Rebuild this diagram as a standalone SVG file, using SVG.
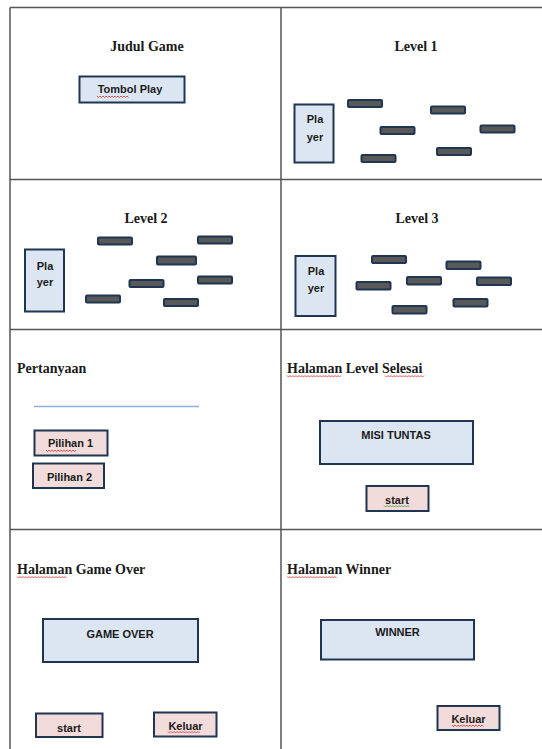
<svg xmlns="http://www.w3.org/2000/svg" width="542" height="749" viewBox="0 0 542 749">
<style>
.grid{stroke:#555;stroke-width:1.5;fill:none}
.h{font-family:"Liberation Serif","Times New Roman",serif;font-weight:bold;font-size:14px;fill:#1a1a1a}
.t{font-family:"Liberation Sans",Arial,sans-serif;font-weight:bold;font-size:11px;fill:#1a1a1a;text-anchor:middle;dominant-baseline:central}
.blue{fill:#dce6f2;stroke:#1f3552;stroke-width:2}
.pink{fill:#f2dcdb;stroke:#1f3552;stroke-width:2}
.bar{fill:#595959;stroke:#1f3552;stroke-width:2}
.sq{fill:none;stroke:#e03030;stroke-width:0.8}
.sqg{fill:none;stroke:#3a9a3a;stroke-width:0.8}
</style>
<rect width="542" height="749" fill="#fff"/>
<g id="grid">
<path class="grid" d="M10,7.5H542M10,7.5V749M281,7.5V749M10,179.5H542M10,329.5H542M10,529.5H542"/>
</g>

<g id="panel-title">
<text class="h" x="147" y="51" text-anchor="middle">Judul Game</text>
<g id="btn-play"><rect class="blue" x="79.5" y="76.5" width="105" height="26"/>
<text class="t" x="130" y="89">Tombol Play</text>
<path class="sq" d="M97,96l1.5,1.5l1.5,-1.5l1.5,1.5l1.5,-1.5l1.5,1.5l1.5,-1.5l1.5,1.5l1.5,-1.5l1.5,1.5l1.5,-1.5l1.5,1.5l1.5,-1.5l1.5,1.5l1.5,-1.5l1.5,1.5l1.5,-1.5l1.5,1.5l1.5,-1.5l1.5,1.5l1.5,-1.5l1.5,1.5"/></g>
</g>

<g id="panel-level1">
<text class="h" x="416" y="51" text-anchor="middle">Level 1</text>
<g id="player1"><rect class="blue" x="294.5" y="104.5" width="39" height="58"/>
<text class="t" x="315" y="119">Pla</text><text class="t" x="315" y="137">yer</text></g>
<rect class="bar" x="348" y="100" width="34" height="7" rx="1"/>
<rect class="bar" x="431" y="106.5" width="34" height="7" rx="1"/>
<rect class="bar" x="380.5" y="127" width="34" height="7" rx="1"/>
<rect class="bar" x="480.5" y="125.5" width="34" height="7" rx="1"/>
<rect class="bar" x="437" y="148" width="34" height="7" rx="1"/>
<rect class="bar" x="361.5" y="155" width="34" height="7" rx="1"/>
</g>

<g id="panel-level2">
<text class="h" x="146" y="223" text-anchor="middle">Level 2</text>
<g id="player2"><rect class="blue" x="25" y="249.5" width="39" height="62"/>
<text class="t" x="45" y="266">Pla</text><text class="t" x="45" y="282">yer</text></g>
<rect class="bar" x="98" y="237.5" width="34" height="7" rx="1"/>
<rect class="bar" x="198" y="236.5" width="34" height="7" rx="1"/>
<rect class="bar" x="157" y="256.5" width="39" height="8" rx="1"/>
<rect class="bar" x="129.5" y="280" width="34" height="7" rx="1"/>
<rect class="bar" x="198" y="276.5" width="34" height="7" rx="1"/>
<rect class="bar" x="86" y="295.5" width="34" height="7" rx="1"/>
<rect class="bar" x="164" y="299" width="34" height="7" rx="1"/>
</g>

<g id="panel-level3">
<text class="h" x="417" y="223" text-anchor="middle">Level 3</text>
<g id="player3"><rect class="blue" x="295.5" y="256" width="40" height="60"/>
<text class="t" x="316" y="271">Pla</text><text class="t" x="316" y="288">yer</text></g>
<rect class="bar" x="372" y="256" width="34" height="7" rx="1"/>
<rect class="bar" x="446.5" y="261.5" width="34" height="7.5" rx="1"/>
<rect class="bar" x="356.5" y="282" width="34" height="7.5" rx="1"/>
<rect class="bar" x="407" y="277" width="34" height="7.5" rx="1"/>
<rect class="bar" x="477" y="277.5" width="34" height="7.5" rx="1"/>
<rect class="bar" x="453.5" y="299" width="34" height="7.5" rx="1"/>
<rect class="bar" x="392.5" y="306" width="34" height="7.5" rx="1"/>
</g>

<g id="panel-pertanyaan">
<text class="h" x="17" y="373">Pertanyaan</text>
<line x1="34" y1="406.5" x2="199" y2="406.5" stroke="#8eb0dc" stroke-width="1.5"/>
<g id="btn-pilihan1"><rect class="pink" x="34.5" y="430.5" width="73" height="25"/>
<text class="t" x="70.5" y="443">Pilihan 1</text>
<path class="sq" d="M46,450l1.5,1.5l1.5,-1.5l1.5,1.5l1.5,-1.5l1.5,1.5l1.5,-1.5l1.5,1.5l1.5,-1.5l1.5,1.5l1.5,-1.5l1.5,1.5l1.5,-1.5l1.5,1.5l1.5,-1.5l1.5,1.5l1.5,-1.5l1.5,1.5l1.5,-1.5l1.5,1.5l1.5,-1.5"/></g>
<g id="btn-pilihan2"><rect class="pink" x="33" y="463.5" width="71" height="24.5"/>
<text class="t" x="69.5" y="476.5">Pilihan 2</text></g>
</g>

<g id="panel-level-selesai">
<text class="h" x="287" y="373">Halaman Level Selesai</text>
<path class="sq" d="M287,375.5l1.5,1.5l1.5,-1.5l1.5,1.5l1.5,-1.5l1.5,1.5l1.5,-1.5l1.5,1.5l1.5,-1.5l1.5,1.5l1.5,-1.5l1.5,1.5l1.5,-1.5l1.5,1.5l1.5,-1.5l1.5,1.5l1.5,-1.5l1.5,1.5l1.5,-1.5l1.5,1.5l1.5,-1.5l1.5,1.5l1.5,-1.5l1.5,1.5l1.5,-1.5l1.5,1.5l1.5,-1.5l1.5,1.5l1.5,-1.5l1.5,1.5l1.5,-1.5l1.5,1.5l1.5,-1.5l1.5,1.5l1.5,-1.5l1.5,1.5l1.5,-1.5"/>
<path class="sq" d="M385,375.5l1.5,1.5l1.5,-1.5l1.5,1.5l1.5,-1.5l1.5,1.5l1.5,-1.5l1.5,1.5l1.5,-1.5l1.5,1.5l1.5,-1.5l1.5,1.5l1.5,-1.5l1.5,1.5l1.5,-1.5l1.5,1.5l1.5,-1.5l1.5,1.5l1.5,-1.5l1.5,1.5l1.5,-1.5l1.5,1.5l1.5,-1.5l1.5,1.5l1.5,-1.5l1.5,1.5l1.5,-1.5"/>
<g id="box-misi"><rect class="blue" x="320" y="421" width="153" height="43"/>
<text class="t" x="396" y="435">MISI TUNTAS</text></g>
<g id="btn-start1"><rect class="pink" x="366.5" y="486" width="62" height="25"/>
<text class="t" x="397" y="499.5">start</text>
<path class="sqg" d="M384,505.5l1.5,1.5l1.5,-1.5l1.5,1.5l1.5,-1.5l1.5,1.5l1.5,-1.5l1.5,1.5l1.5,-1.5l1.5,1.5l1.5,-1.5l1.5,1.5l1.5,-1.5l1.5,1.5l1.5,-1.5l1.5,1.5l1.5,-1.5l1.5,1.5"/></g>
</g>

<g id="panel-game-over">
<text class="h" x="17" y="574">Halaman Game Over</text>
<path class="sq" d="M17,576.5l1.5,1.5l1.5,-1.5l1.5,1.5l1.5,-1.5l1.5,1.5l1.5,-1.5l1.5,1.5l1.5,-1.5l1.5,1.5l1.5,-1.5l1.5,1.5l1.5,-1.5l1.5,1.5l1.5,-1.5l1.5,1.5l1.5,-1.5l1.5,1.5l1.5,-1.5l1.5,1.5l1.5,-1.5l1.5,1.5l1.5,-1.5l1.5,1.5l1.5,-1.5l1.5,1.5l1.5,-1.5l1.5,1.5l1.5,-1.5l1.5,1.5l1.5,-1.5l1.5,1.5l1.5,-1.5l1.5,1.5"/>
<g id="box-game-over"><rect class="blue" x="43" y="619" width="155" height="43"/>
<text class="t" x="120" y="634">GAME OVER</text></g>
<g id="btn-start2"><rect class="pink" x="36" y="713.5" width="66.5" height="23.5"/>
<text class="t" x="69" y="727.5">start</text></g>
<g id="btn-keluar1"><rect class="pink" x="154" y="712.5" width="62.5" height="24"/>
<text class="t" x="185.5" y="725.5">Keluar</text>
<path class="sq" d="M168,731.5l1.5,1.5l1.5,-1.5l1.5,1.5l1.5,-1.5l1.5,1.5l1.5,-1.5l1.5,1.5l1.5,-1.5l1.5,1.5l1.5,-1.5l1.5,1.5l1.5,-1.5l1.5,1.5l1.5,-1.5l1.5,1.5l1.5,-1.5l1.5,1.5l1.5,-1.5l1.5,1.5l1.5,-1.5l1.5,1.5"/></g>
</g>

<g id="panel-winner">
<text class="h" x="287" y="574">Halaman Winner</text>
<path class="sq" d="M287,576.5l1.5,1.5l1.5,-1.5l1.5,1.5l1.5,-1.5l1.5,1.5l1.5,-1.5l1.5,1.5l1.5,-1.5l1.5,1.5l1.5,-1.5l1.5,1.5l1.5,-1.5l1.5,1.5l1.5,-1.5l1.5,1.5l1.5,-1.5l1.5,1.5l1.5,-1.5l1.5,1.5l1.5,-1.5l1.5,1.5l1.5,-1.5l1.5,1.5l1.5,-1.5l1.5,1.5l1.5,-1.5l1.5,1.5l1.5,-1.5l1.5,1.5l1.5,-1.5l1.5,1.5l1.5,-1.5l1.5,1.5"/>
<g id="box-winner"><rect class="blue" x="321" y="620" width="153" height="39.5"/>
<text class="t" x="397.5" y="631.5">WINNER</text></g>
<g id="btn-keluar2"><rect class="pink" x="437.5" y="706" width="62" height="24"/>
<text class="t" x="468.5" y="719">Keluar</text>
<path class="sq" d="M452,725l1.5,1.5l1.5,-1.5l1.5,1.5l1.5,-1.5l1.5,1.5l1.5,-1.5l1.5,1.5l1.5,-1.5l1.5,1.5l1.5,-1.5l1.5,1.5l1.5,-1.5l1.5,1.5l1.5,-1.5l1.5,1.5l1.5,-1.5l1.5,1.5l1.5,-1.5l1.5,1.5l1.5,-1.5l1.5,1.5"/></g>
</g>
</svg>
